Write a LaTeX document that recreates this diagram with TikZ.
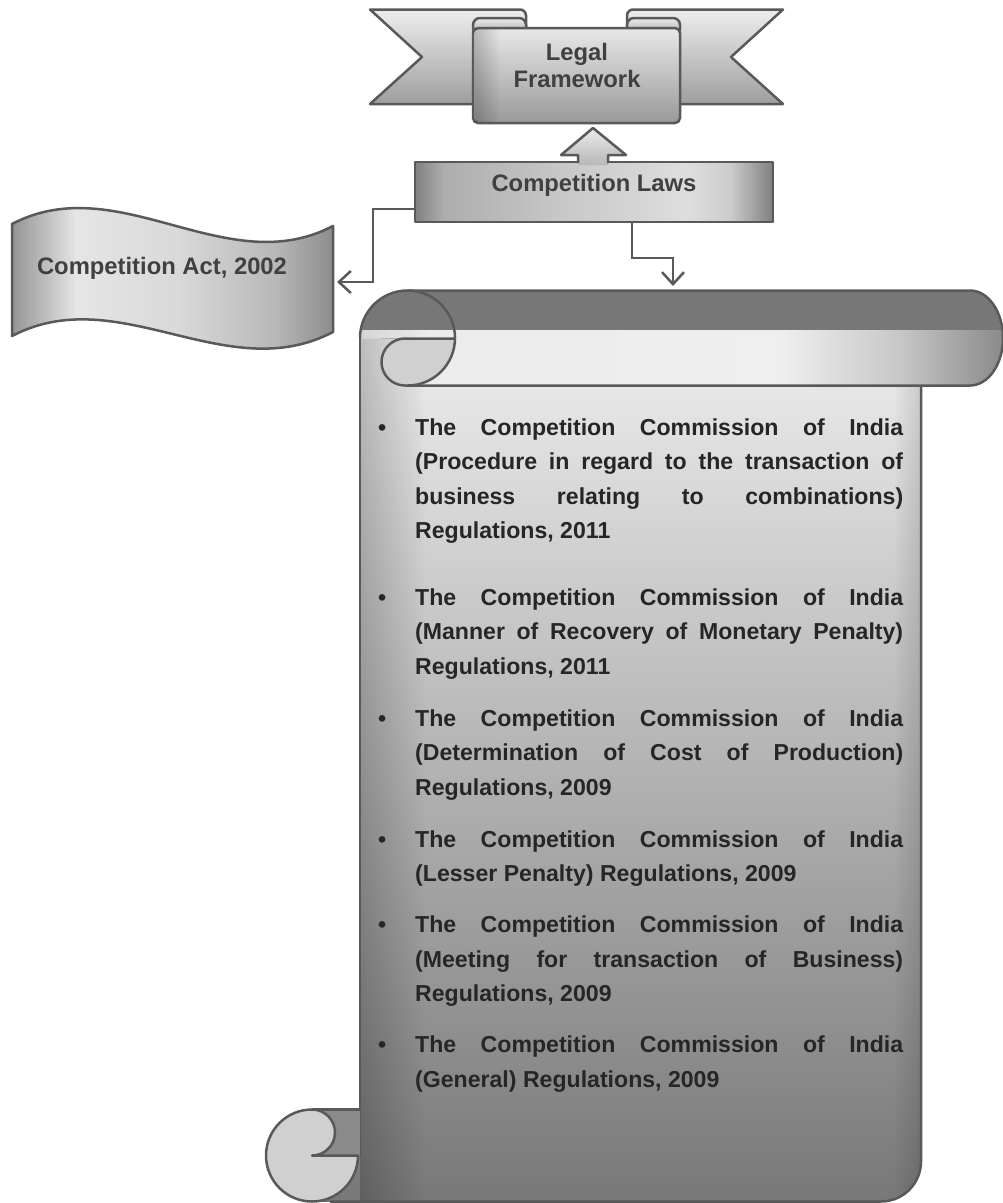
\documentclass[tikz,border=0pt]{standalone}
\usepackage{fontspec}
\setmainfont{Liberation Sans}
\usetikzlibrary{arrows.meta,fadings}

\definecolor{edgecol}{HTML}{595959}
\definecolor{txtcol}{HTML}{404040}
\definecolor{btxtcol}{HTML}{262626}
\definecolor{darkband}{HTML}{777777}
\definecolor{curlcol}{HTML}{D0D0D0}
\definecolor{backband}{HTML}{8A8A8A}

\pgfdeclarehorizontalshading{bandshade}{100bp}{gray(0bp)=(0.835); gray(25bp)=(0.835); gray(30.4bp)=(0.925); gray(57.7bp)=(0.937); gray(67bp)=(0.78); gray(75bp)=(0.54); gray(100bp)=(0.54)}
\pgfdeclareverticalshading{bodyshade}{100bp}{gray(0bp)=(0.47); gray(25bp)=(0.47); gray(75bp)=(0.93); gray(100bp)=(0.93)}
\pgfdeclareverticalshading{tailshade}{100bp}{gray(0bp)=(0.62); gray(25bp)=(0.62); gray(75bp)=(0.93); gray(100bp)=(0.93)}
\pgfdeclareverticalshading{panelshade}{100bp}{gray(0bp)=(0.6); gray(25bp)=(0.6); gray(75bp)=(0.91); gray(100bp)=(0.91)}
\pgfdeclarehorizontalshading{lawsshade}{100bp}{gray(0bp)=(0.5); gray(25bp)=(0.5); gray(29bp)=(0.68); gray(45bp)=(0.78); gray(63bp)=(0.87); gray(69bp)=(0.8); gray(75bp)=(0.5); gray(100bp)=(0.5)}
\pgfdeclarehorizontalshading{waveshade}{100bp}{gray(0bp)=(0.58); gray(25bp)=(0.58); gray(35bp)=(0.9); gray(51bp)=(0.85); gray(66bp)=(0.72); gray(75bp)=(0.55); gray(100bp)=(0.55)}
\pgfdeclareverticalshading{blockshade}{100bp}{gray(0bp)=(0.72); gray(25bp)=(0.72); gray(75bp)=(0.92); gray(100bp)=(0.92)}

\newcommand{\fullline}[1]{\makebox[488pt][s]{\spaceskip=0pt\xspaceskip=0pt #1}}
\newcommand{\mybul}{\llap{\textbullet\hspace{29pt}}}

\tikzset{
  outl/.style={draw=edgecol, line width=2.5pt, line join=round},
  conn/.style={draw=edgecol, line width=2.5pt, line join=miter, -{Straight Barb[length=12pt,width=22pt]}},
  lbl/.style={text=txtcol, font=\fontsize{23.8}{27}\selectfont\bfseries, inner sep=0pt},
  itemtxt/.style={text=btxtcol, font=\fontsize{23.1}{34.5}\selectfont\bfseries, inner sep=0pt, text width=488pt, align=justify, anchor=north west},
}

\def\rollpath{(360,338) arc[start angle=180,end angle=270,radius=47.5] -- (970,290.5) arc[start angle=270,end angle=450,x radius=33,y radius=47.5] -- (405,385.5) arc[start angle=90,end angle=270,radius=23.5] -- cycle}
\def\bodypath{(360,338) -- (360,1156) -- (312,1201.5) -- (881,1201.5) arc[start angle=90,end angle=0,radius=40] -- (921,338) -- cycle}

\begin{document}
\begin{tikzpicture}[x=1pt,y=-1pt]
\fill[white] (0,0) rectangle (1003,1203);
\useasboundingbox (0,0) rectangle (1003,1203);

% ---- Competition Act wave ----
\draw[outl, shade, shading=waveshade] (12,224) .. controls (119,168) and (226,282) .. (333,226) -- (333,332) .. controls (226,388) and (119,280) .. (12,336) -- cycle;
\node[lbl, anchor=base] (acttxt) at (162,274) {Competition Act, 2002};
\coordinate (actE) at (337,282);

% ---- Legal Framework ribbon ----
\draw[outl, shade, shading=tailshade] (370,9.5) -- (520,9.5) arc[start angle=270,end angle=360,radius=6] -- (526,60) -- (480,60) -- (480,104) -- (370,104) -- (422,57) -- cycle;
\draw[outl, shade, shading=tailshade] (783,9.5) -- (633,9.5) arc[start angle=270,end angle=180,radius=6] -- (627,60) -- (673,60) -- (673,104) -- (783,104) -- (731,57) -- cycle;
\draw[outl, shade, shading=tailshade, rounded corners=7pt] (473,18) rectangle (526,36);
\draw[outl, shade, shading=tailshade, rounded corners=7pt] (627,18) rectangle (680,36);
\draw[outl, shade, shading=panelshade, rounded corners=5pt] (473,28) rectangle (680,123);
\fill[black, opacity=0.2, path fading=east] (474.5,29.5) rectangle (500,121.5);
\node[lbl, align=center, anchor=north] (legaltxt) at (577,43) {Legal\\Framework};

% ---- Competition Laws box ----
\node[outl, shade, shading=lawsshade, minimum width=358pt, minimum height=60pt, inner sep=0pt] (laws) at (594,192) {};
\path[shade, shading=blockshade] (593,128) -- (626,155) -- (608,155) -- (608,165) -- (578,165) -- (578,155) -- (561,155) -- cycle;
\draw[outl] (608,163) -- (608,155) -- (626,155) -- (593,128) -- (561,155) -- (578,155) -- (578,163);
\node[lbl, anchor=base] (lawstxt) at (594,191) {Competition Laws};

% ---- connectors ----
\coordinate (scrollT) at (673,286);
\draw[conn] ([yshift=-17pt]laws.west) -| (373,282) -- (actE);
\draw[conn] ([xshift=38pt]laws.south) |- (673,258) -- (scrollT);

% ---- scroll body ----
\fill[shade, shading=bodyshade] \bodypath;
\begin{scope}
  \clip \bodypath;
  \fill[black, opacity=0.2, path fading=east] (360,338) rectangle (425,1202);
  \fill[black, opacity=0.12, path fading=west] (893,338) rectangle (921,1202);
\end{scope}
\draw[outl] (360,338) -- (360,1156);
\draw[outl] (330,1201.5) -- (881,1201.5) arc[start angle=90,end angle=0,radius=40] -- (921,384);

% bottom roll
\fill[backband] (312,1109.5) rectangle (360,1156);
\draw[outl] (312,1109.5) -- (360,1109.5);
\draw[outl, fill=curlcol] (312,1109.5) arc[start angle=270,end angle=0,radius=46] -- (312,1155.5) arc[start angle=90,end angle=-90,radius=23] -- cycle;

% top roll
\fill[shade, shading=bandshade] \rollpath;
\begin{scope}
  \clip \rollpath;
  \fill[darkband] (355,285) rectangle (1010,330);
\end{scope}
\fill[curlcol] (405,338.5) -- (455,338.5) arc[start angle=0,end angle=90,radius=47.5] -- (405,385.5) arc[start angle=90,end angle=270,radius=23.5] -- cycle;
\draw[outl] (360,338) arc[start angle=180,end angle=450,radius=47.5];
\draw[outl] (407.5,290.5) -- (970,290.5) arc[start angle=270,end angle=450,x radius=33,y radius=47.5] -- (405,385.5) arc[start angle=90,end angle=270,radius=23.5] -- (455,338.5);

% ---- bullet items ----
\node[itemtxt] (i1) at (415,418.5) {\noindent\mybul\fullline{The Competition Commission of India}\\\fullline{(Procedure in regard to the transaction of}\\\fullline{business relating to combinations)}\\Regulations, 2011};
\node[itemtxt] (i2) at (415,588.5) {\noindent\mybul\fullline{The Competition Commission of India}\\\fullline{(Manner of Recovery of Monetary Penalty)}\\Regulations, 2011};
\node[itemtxt] (i3) at (415,709.5) {\noindent\mybul\fullline{The Competition Commission of India}\\\fullline{(Determination of Cost of Production)}\\Regulations, 2009};
\node[itemtxt] (i4) at (415,830.5) {\noindent\mybul\fullline{The Competition Commission of India}\\(Lesser Penalty) Regulations, 2009};
\node[itemtxt] (i5) at (415,916) {\noindent\mybul\fullline{The Competition Commission of India}\\\fullline{(Meeting for transaction of Business)}\\Regulations, 2009};
\node[itemtxt] (i6) at (415,1036) {\noindent\mybul\fullline{The Competition Commission of India}\\(General) Regulations, 2009};
\end{tikzpicture}
\end{document}
